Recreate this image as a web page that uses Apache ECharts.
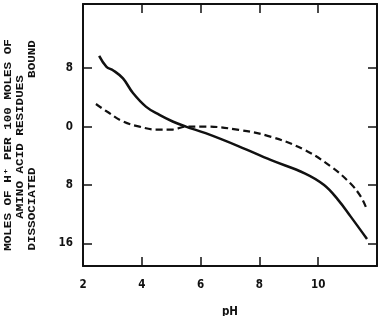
<!DOCTYPE html>
<html>
<head>
<meta charset="utf-8">
<script src="https://cdn.jsdelivr.net/npm/echarts@6/dist/echarts.min.js"></script>
<style>
  html, body { margin: 0; padding: 0; background: #fff; }
  #chart { width: 384px; height: 316px; }
</style>
</head>
<body>
<div id="chart"></div>
<script>
// pH vs moles of H+ bound (+) / dissociated (-) per 100 moles of residues
const solidPH = [2.55, 2.8, 3.03, 3.36, 3.7, 4.15, 4.6, 5.05, 5.5, 6.17, 7.3, 8.4, 9.54, 10.2, 10.67, 11.1, 11.66]
const solidH = [9.7, 8.2, 7.7, 6.6, 4.6, 2.7, 1.6, 0.7, 0, -0.9, -2.7, -4.6, -6.4, -8, -10, -12.3, -15.4]
const dashPH = [2.44, 2.8, 3.36, 3.92, 4.48, 5.05, 5.5, 6.17, 7.3, 8.4, 9.54, 10.44, 11.1, 11.45, 11.62]
const dashH = [3.1, 2.1, 0.7, 0, -0.4, -0.4, 0, 0, -0.45, -1.4, -3.2, -5.5, -7.8, -9.6, -11]
const xTicks = [2, 4, 6, 8, 10, 12]
const xTickLabels = [2, 4, 6, 8, 10]
const yTicks = [-16, -8, 0, 8]

const chart = echarts.init(document.getElementById('chart'))
const labelFont = { fontFamily: 'DejaVu Sans Condensed, DejaVu Sans', fontSize: 11.5, fontWeight: 'bold', color: '#111' }
const titleFont = { fontFamily: 'Liberation Mono, DejaVu Sans Mono', fontSize: 10.5, fontWeight: 'bold', fill: '#111' }

const edge = { show: true, onZero: false, lineStyle: { color: '#111', width: 2 } }
const tickIn = (vals) => ({ show: true, inside: true, length: 9, customValues: vals, lineStyle: { color: '#111', width: 1.5 } })
// rotated title line, stretched along its length like the typewritten original
const titleLine = (x, y, text) => ({
  type: 'text', x, y, rotation: Math.PI / 2, scaleX: 1.2,
  style: { ...titleFont, text, align: 'center', verticalAlign: 'middle' }
})

chart.setOption({
  animation: false,
  grid: { left: 83, right: 7, top: 4, bottom: 50, containLabel: false, outerBoundsMode: 'none' },
  xAxis: [
    {
      type: 'value', min: 2, max: 12, position: 'bottom',
      axisLine: edge, splitLine: { show: false },
      axisTick: tickIn(xTicks),
      axisLabel: { ...labelFont, margin: 13, customValues: xTickLabels },
      name: 'pH', nameLocation: 'middle', nameGap: 40,
      nameTextStyle: { ...labelFont }
    },
    {
      type: 'value', min: 2, max: 12, position: 'top',
      axisLine: edge, splitLine: { show: false },
      axisTick: tickIn(xTicks), axisLabel: { show: false }
    }
  ],
  yAxis: [
    {
      type: 'value', min: -19.1, max: 16.8, position: 'left',
      axisLine: edge, splitLine: { show: false },
      axisTick: tickIn(yTicks),
      axisLabel: { ...labelFont, margin: 10, customValues: yTicks, formatter: (v) => String(Math.abs(v)) }
    },
    {
      type: 'value', min: -19.1, max: 16.8, position: 'right',
      axisLine: edge, splitLine: { show: false },
      axisTick: tickIn(yTicks), axisLabel: { show: false }
    }
  ],
  series: [
    {
      type: 'line', smooth: 0.4, symbol: 'none',
      data: solidPH.map((x, i) => [x, solidH[i]]),
      lineStyle: { color: '#111', width: 2.5 }
    },
    {
      type: 'line', smooth: 0.4, symbol: 'none',
      data: dashPH.map((x, i) => [x, dashH[i]]),
      lineStyle: { color: '#111', width: 2.2, type: [7, 4] }
    }
  ],
  graphic: [
    titleLine(8, 145, 'MOLES OF H\u207A PER 100 MOLES OF'),
    titleLine(20, 147, 'AMINO ACID RESIDUES'),
    titleLine(32, 209, 'DISSOCIATED'),
    titleLine(32, 59, 'BOUND')
  ]
})
</script>
</body>
</html>
